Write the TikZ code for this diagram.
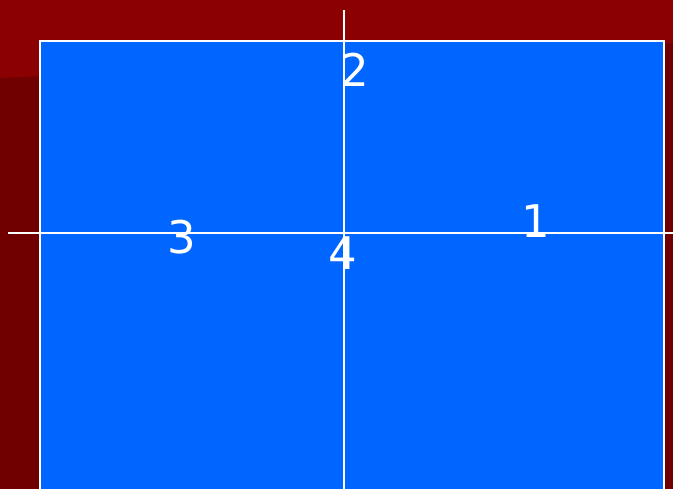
\documentclass[tikz,border=0pt]{standalone}
\usepackage{fontspec}
\setmainfont{DejaVu Sans}
\definecolor{bgdark}{HTML}{700000}
\definecolor{bgtop}{HTML}{8B0000}
\definecolor{panel}{HTML}{0066FF}
\begin{document}
\begin{tikzpicture}[x=1pt,y=-1pt,
  lab/.style={text=white,font=\fontsize{45}{45}\selectfont,inner sep=0pt},
  axis/.style={draw=white,line width=1.5pt}]
\useasboundingbox (0,0) rectangle (673,489);
\fill[bgdark] (0,0) rectangle (673,489);
\fill[bgtop] (0,0) -- (673,0) -- (673,43) -- (0,78) -- cycle;
\draw[fill=panel,draw=white,line width=2pt] (40,41) rectangle (664,490);
\coordinate (vt) at (344,10);
\coordinate (vb) at (344,489);
\coordinate (hl) at (8,233);
\coordinate (hr) at (673,233);
\draw[axis] (vt) -- (vb);
\draw[axis] (hl) -- (hr);
\node[lab] (n2) at (355,70) {2};
\node[lab] (n1) at (536,221) {1};
\node[lab] (n3) at (182,237) {3};
\node[lab] (n4) at (343,253) {4};
\end{tikzpicture}
\end{document}
